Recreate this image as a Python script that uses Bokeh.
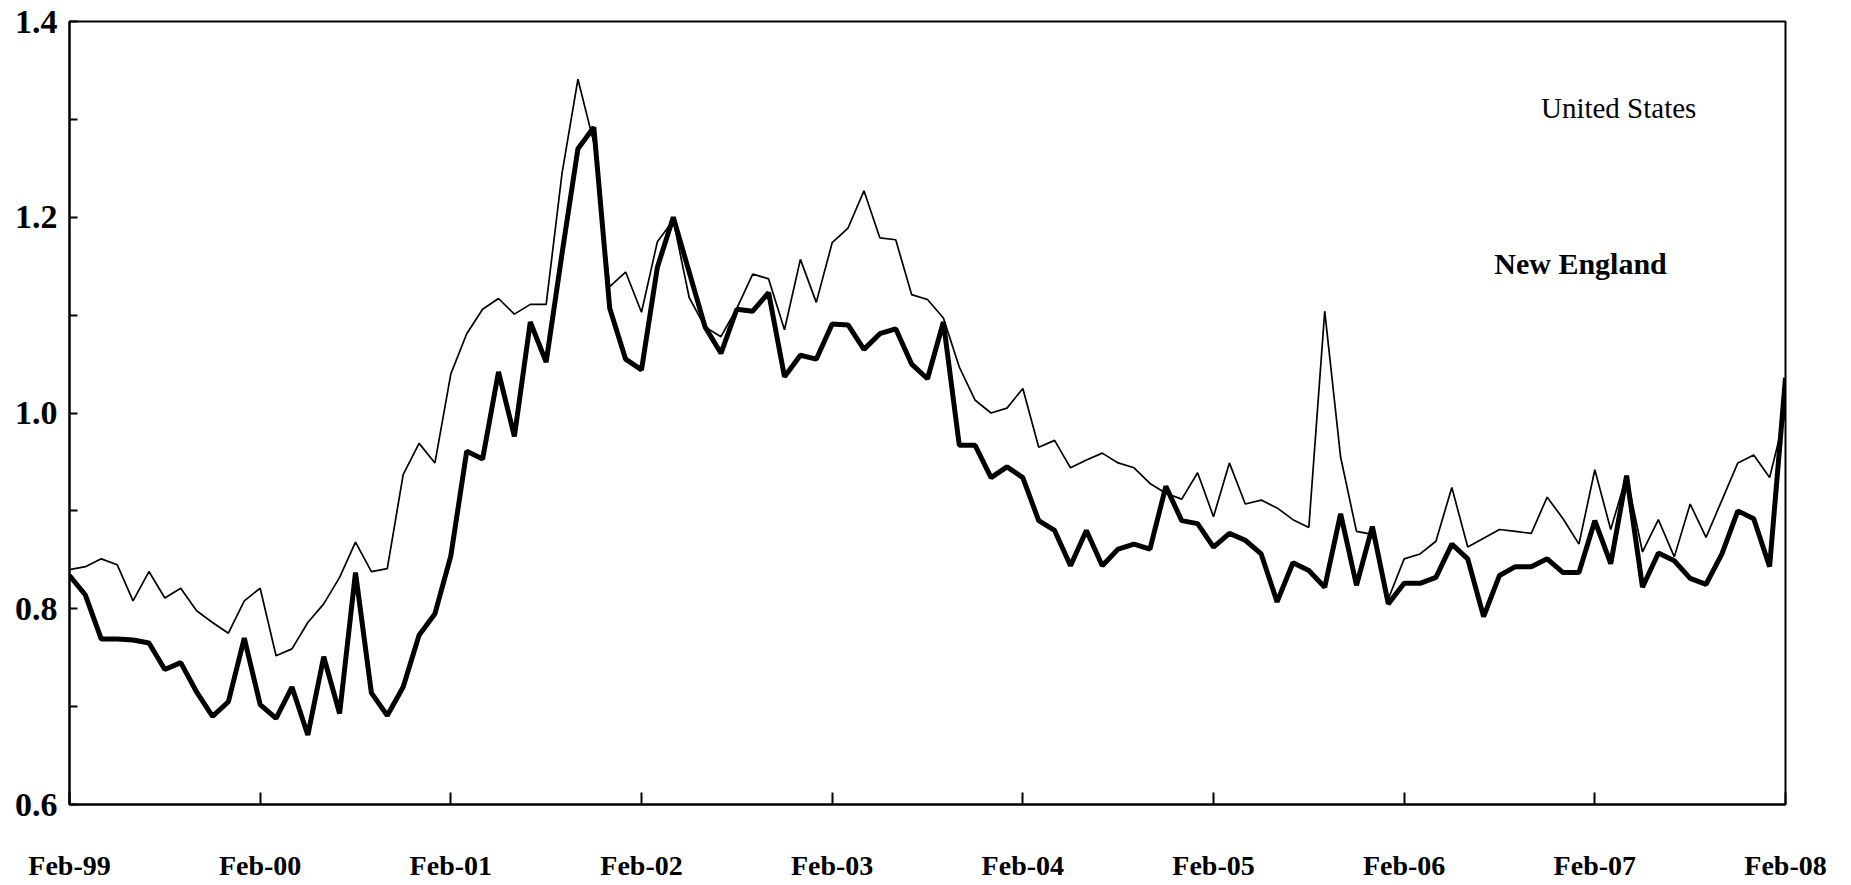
from bokeh.plotting import figure
from bokeh.models import Range1d, FixedTicker, Label, ColumnDataSource
from bokeh.embed import file_html
from bokeh.resources import INLINE

# Monthly series, Feb-1999 .. Feb-2008 (109 months)
united_states = [
    0.840, 0.843, 0.851, 0.845, 0.808, 0.838, 0.811, 0.821, 0.798, 0.786, 0.775, 0.808,
    0.821, 0.752, 0.759, 0.786, 0.805, 0.832, 0.868, 0.838, 0.841, 0.937, 0.969, 0.949,
    1.040, 1.081, 1.106, 1.117, 1.101, 1.111, 1.111, 1.245, 1.341, 1.276, 1.129, 1.144,
    1.103, 1.175, 1.197, 1.118, 1.088, 1.078, 1.107, 1.142, 1.137, 1.085, 1.157, 1.113,
    1.174, 1.189, 1.227, 1.179, 1.177, 1.121, 1.116, 1.097, 1.047, 1.013, 1.000, 1.005,
    1.025, 0.965, 0.972, 0.944, 0.952, 0.959, 0.949, 0.944, 0.928, 0.918, 0.912, 0.939,
    0.894, 0.949, 0.907, 0.911, 0.903, 0.891, 0.883, 1.104, 0.955, 0.879, 0.876, 0.810,
    0.851, 0.856, 0.869, 0.924, 0.863, 0.872, 0.881, 0.879, 0.877, 0.914, 0.892, 0.866,
    0.942, 0.881, 0.936, 0.858, 0.891, 0.853, 0.907, 0.873, 0.911, 0.949, 0.957, 0.934,
    1.000,
]
new_england = [
    0.834, 0.814, 0.769, 0.769, 0.768, 0.765, 0.738, 0.745, 0.715, 0.690, 0.705, 0.770,
    0.702, 0.688, 0.720, 0.671, 0.751, 0.693, 0.837, 0.714, 0.691, 0.720, 0.773, 0.795,
    0.854, 0.961, 0.953, 1.042, 0.976, 1.093, 1.052, 1.163, 1.270, 1.292, 1.107, 1.055,
    1.044, 1.149, 1.200, 1.144, 1.088, 1.061, 1.106, 1.104, 1.123, 1.037, 1.059, 1.055,
    1.091, 1.090, 1.065, 1.081, 1.086, 1.050, 1.035, 1.093, 0.967, 0.967, 0.934, 0.945,
    0.934, 0.890, 0.880, 0.844, 0.880, 0.844, 0.861, 0.866, 0.861, 0.925, 0.890, 0.887,
    0.863, 0.877, 0.870, 0.856, 0.807, 0.847, 0.839, 0.822, 0.897, 0.824, 0.884, 0.805,
    0.826, 0.826, 0.832, 0.866, 0.851, 0.792, 0.834, 0.843, 0.843, 0.851, 0.837, 0.837,
    0.890, 0.846, 0.936, 0.822, 0.857, 0.849, 0.831, 0.825, 0.856, 0.900, 0.892, 0.843,
    1.036,
]
month_index = list(range(len(united_states)))
tick_labels = ["Feb-99", "Feb-00", "Feb-01", "Feb-02", "Feb-03", "Feb-04",
               "Feb-05", "Feb-06", "Feb-07", "Feb-08"]
tick_positions = [12 * k for k in range(len(tick_labels))]
y_major = [0.6, 0.8, 1.0, 1.2, 1.4]
y_minor = [0.7, 0.9, 1.1, 1.3]

FONT = "Liberation Serif"

p = figure(frame_width=1716, frame_height=783,
           x_range=Range1d(0, 108), y_range=Range1d(0.6, 1.4),
           output_backend="svg", toolbar_location=None,
           min_border_left=69, min_border_right=58,
           min_border_top=21, min_border_bottom=76)
p.background_fill_color = "white"
p.border_fill_color = "white"
p.outline_line_color = "black"
p.outline_line_width = 2
p.xgrid.visible = False
p.ygrid.visible = False

src = ColumnDataSource(dict(x=month_index, us=united_states, ne=new_england))
p.line("x", "us", source=src, line_color="black", line_width=1.7)
p.line("x", "ne", source=src, line_color="black", line_width=5)

# x axis
xa = p.xaxis[0]
xa.ticker = FixedTicker(ticks=tick_positions)
xa.major_label_overrides = {t: l for t, l in zip(tick_positions, tick_labels)}
xa.major_tick_in = 12
xa.major_tick_out = 0
xa.minor_tick_line_color = None
xa.axis_line_width = 2
xa.major_tick_line_width = 2
xa.major_label_standoff = 45
xa.major_label_text_font = FONT
xa.major_label_text_font_style = "bold"
xa.major_label_text_font_size = "28px"
xa.major_label_text_color = "black"

# y axis
ya = p.yaxis[0]
ya.ticker = FixedTicker(ticks=y_major, minor_ticks=y_minor)
ya.major_label_overrides = {v: f"{v:.1f}" for v in y_major}
ya.major_tick_in = 8
ya.major_tick_out = 0
ya.minor_tick_in = 8
ya.minor_tick_out = 0
ya.axis_line_width = 2
ya.major_tick_line_width = 2
ya.minor_tick_line_width = 2
ya.major_label_standoff = 12
ya.major_label_text_font = FONT
ya.major_label_text_font_style = "bold"
ya.major_label_text_font_size = "34px"
ya.major_label_text_color = "black"

p.add_layout(Label(x=97.5, y=1.312, text="United States", text_align="center",
                   text_baseline="middle", text_font=FONT,
                   text_font_size="29px", text_color="black"))
p.add_layout(Label(x=95.1, y=1.153, text="New England", text_align="center",
                   text_baseline="middle", text_font=FONT, text_font_style="bold",
                   text_font_size="30px", text_color="black"))

open("out.html", "w").write(file_html(p, INLINE))
